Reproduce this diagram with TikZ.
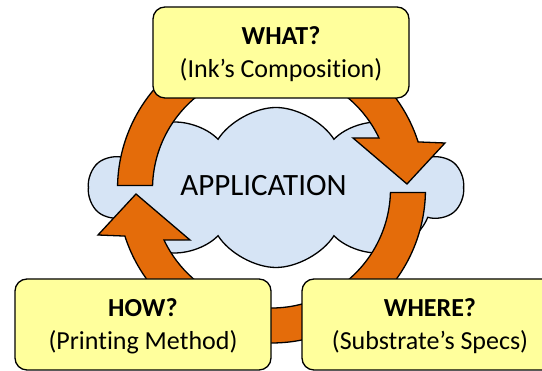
\documentclass[tikz,border=0pt]{standalone}
\usepackage{fontspec}
\setmainfont{Carlito}[Ligatures=NoCommon]
\usepackage{tikz}
\usetikzlibrary{shapes.symbols}
\definecolor{boxfill}{HTML}{FFFF9C}
\definecolor{cloudfill}{HTML}{D6E4F5}
\definecolor{cyc}{HTML}{E46C0A}
\definecolor{ink}{HTML}{000000}
\tikzset{
  qbox/.style={draw=ink, fill=boxfill, line width=1.3pt, rounded corners=12pt, align=center,
               minimum width=256pt, minimum height=91pt, inner sep=0pt, text depth=0pt,
               font=\fontsize{26}{33}\selectfont},
  cyclearr/.style={draw=ink, fill=cyc, line width=1.3pt, line join=miter},
  appcloud/.style={cloud, cloud puffs=10, cloud puff arc=115, aspect=2.4, draw=ink, fill=cloudfill,
                   line width=1.3pt, minimum width=374pt, minimum height=160pt, inner sep=0pt},
}

\begin{document}
\begin{tikzpicture}[x=1pt, y=1pt]
  \clip (0,0) rectangle (542,371);
  \node[appcloud] (cloud) at (276,183.5) {};
  \node[font=\fontsize{31}{31}\selectfont] (app) at (263.5,185.5) {APPLICATION};
  % ring of two arrows round the cloud, centre (271.5,182)
  \foreach \r in {0,180}
    \draw[cyclearr, shift={(271.5,182)}, rotate=\r]
      (178.7:154) arc[start angle=178.7, end angle=17.8, radius=154]
      -- (173.5,46) -- (135.5,5) -- (81.5,51)
      -- (25.4:119) arc[start angle=25.4, end angle=178.3, radius=119] -- cycle;
  \node[qbox] (what) at (281,318.5) {\textbf{WHAT?}\\(Ink’s Composition)};
  \node[qbox] (how) at (143,46.5) {\textbf{HOW?}\\(Printing Method)};
  \node[qbox] (where) at (430,46.5) {\textbf{WHERE?}\\(Substrate’s Specs)};
\end{tikzpicture}
\end{document}
